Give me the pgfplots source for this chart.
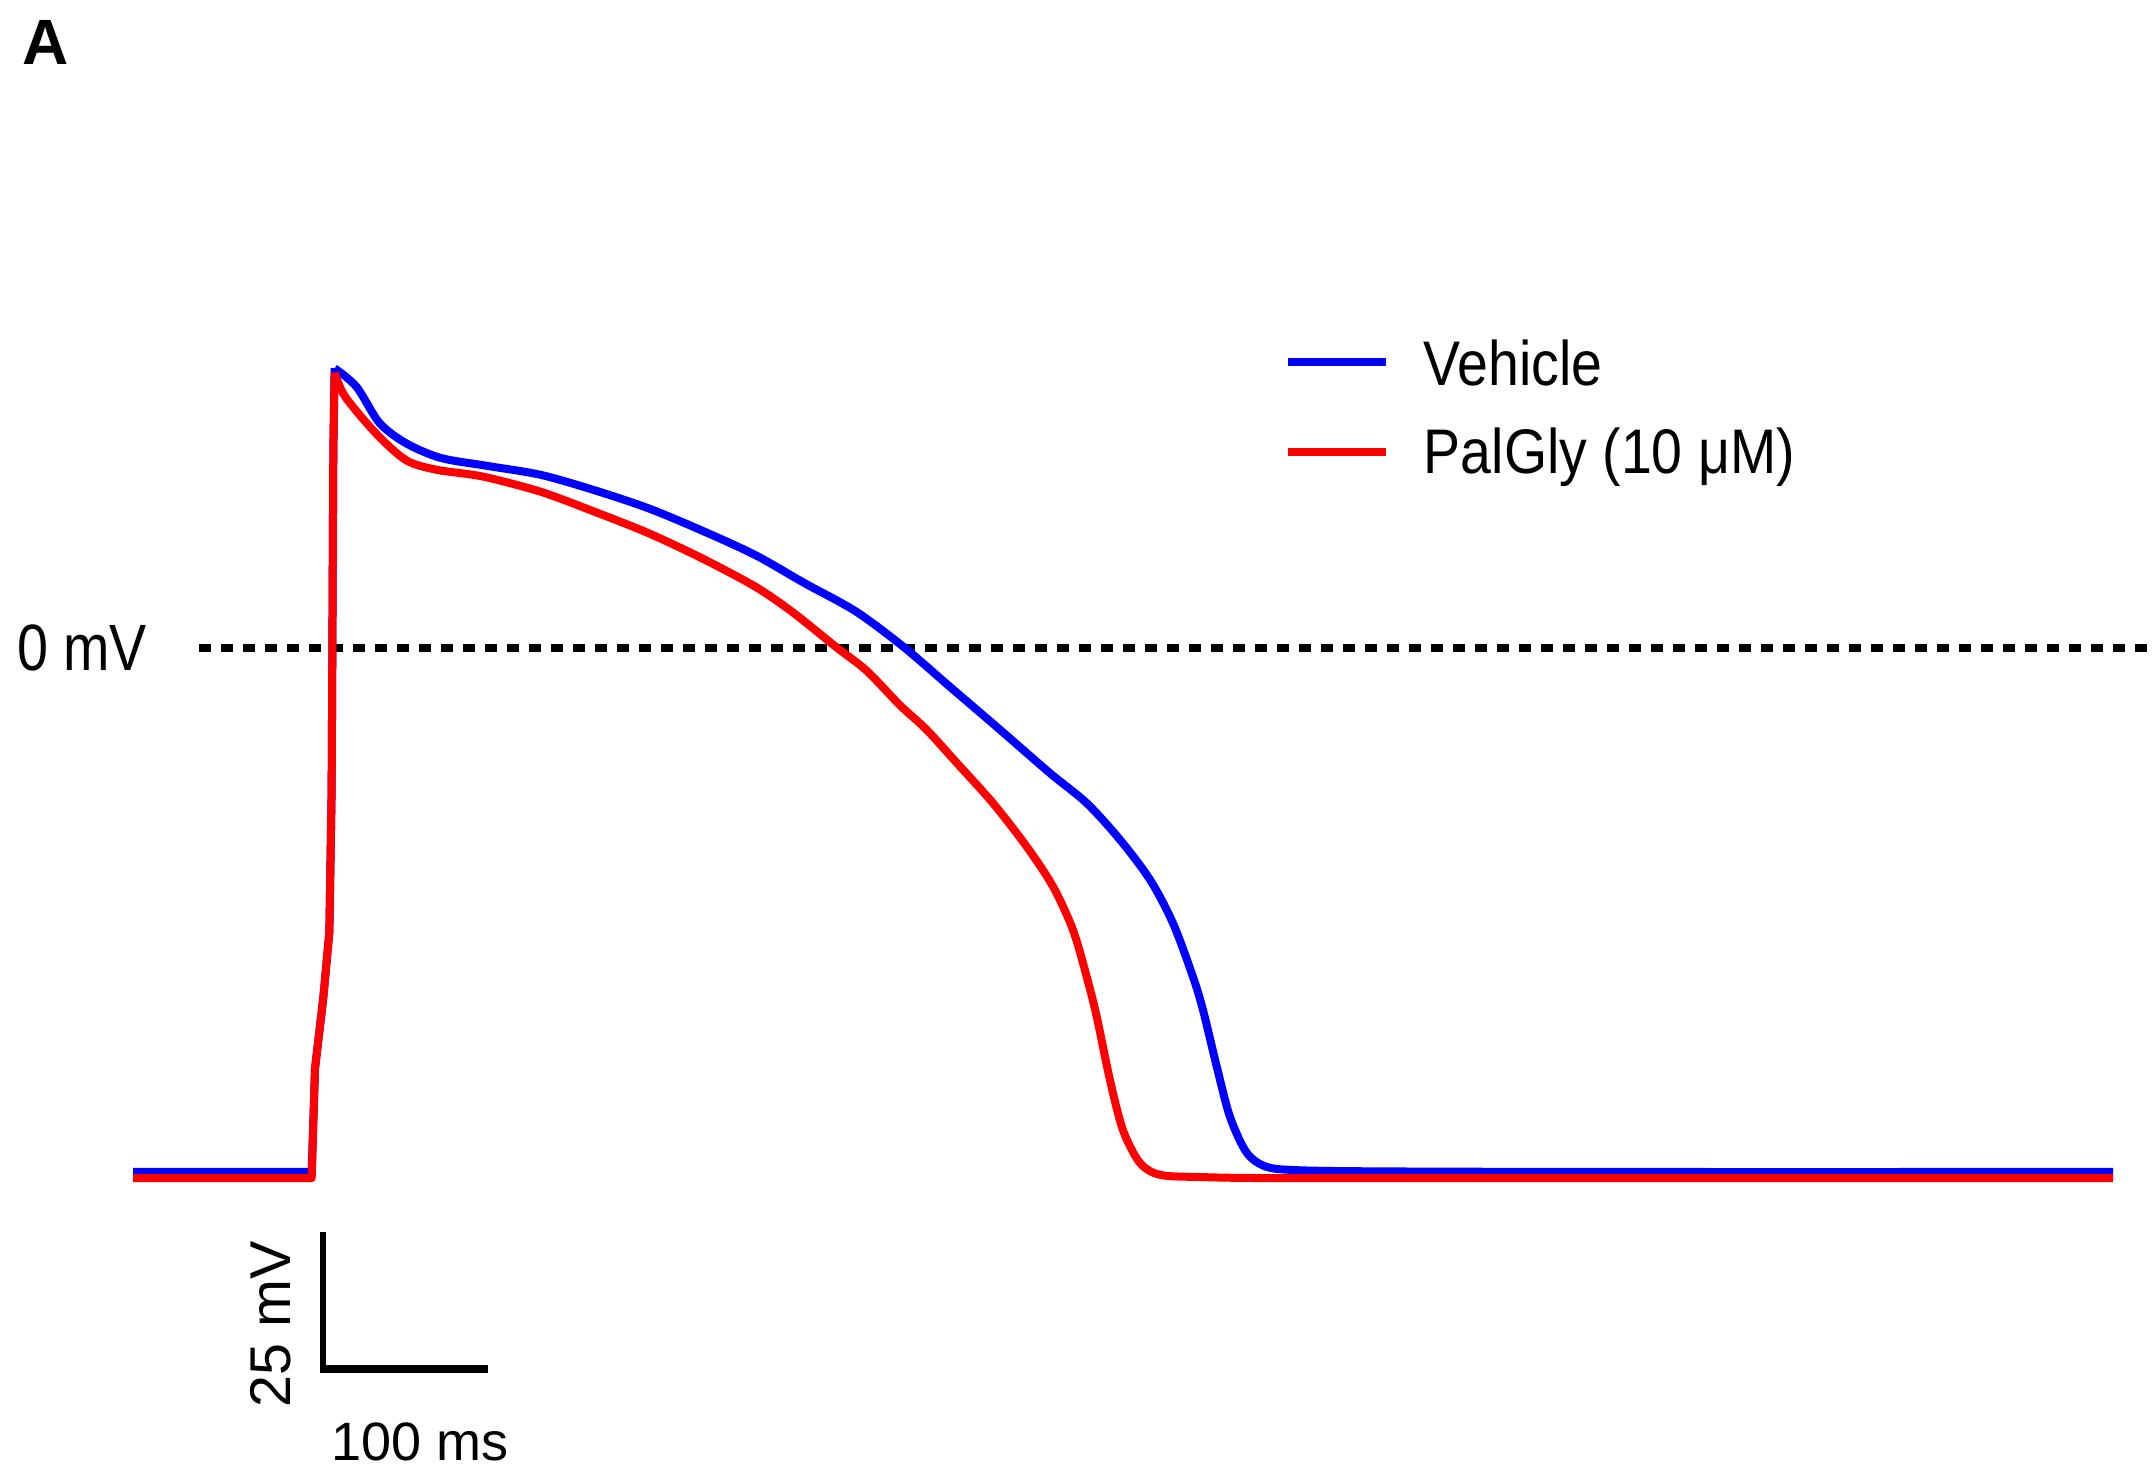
\documentclass[border=0pt]{standalone}
\usepackage{pgfplots}
\pgfplotsset{compat=1.18}
\usepackage{fontspec}
\setmainfont{Liberation Sans}
\usepackage{graphicx}
\begin{document}
\begin{tikzpicture}
\begin{axis}[
  width=431.2pt, height=295.6pt, scale only axis,
  xmin=-80.606, xmax=1226.06, ymin=-147.163, ymax=114.894,
  hide axis, clip=false,
]
% 0 mV reference line
\addplot[black, line width=1.6pt, line cap=butt, dash pattern=on 2.4pt off 2pt] coordinates {(40,0) (1226,0)};
% Vehicle: resting + upstroke
\addplot[blue, line width=1.6pt, line join=round] coordinates {
(0,-92.9) (108.3,-92.9) (110.3,-74.6) (115.3,-62.1) (119.0,-50.4) (120.4,-25.0) (121.4,35.1) (122.2,49.6)};
% Vehicle: repolarisation
\addplot[blue, line width=1.6pt, line join=round, smooth, tension=0.5] coordinates {
(122.2,49.6) (135.5,46.3) (149.4,39.9) (165.5,36.3) (186.5,33.7) (214.5,32.3) (247.1,30.7) (279.4,28.0) (312.1,24.8)
(344.2,20.9) (377.0,16.5) (407,11.5) (438,6.5) (467,0.2) (495.2,-6.9) (525.5,-14.5) (555.8,-22.2)
(578.0,-27.5) (598.2,-34.0) (616.4,-41.1) (630.3,-48.8) (642.4,-58.3) (648.5,-64.2) (656.8,-74.2)
(664.8,-83.1) (675.0,-89.5) (687.1,-92.0) (707.3,-92.6) (760,-92.8) (900,-92.9) (1200,-92.9)};
% PalGly: resting + upstroke
\addplot[red, line width=1.6pt, line join=round] coordinates {
(0,-94.0) (108.3,-94.0) (110.3,-74.6) (115.3,-62.1) (119.0,-50.4) (120.4,-25.0) (121.4,35.1) (122.2,48.8)};
% PalGly: repolarisation
\addplot[red, line width=1.6pt, line join=round, smooth, tension=0.5] coordinates {
(122.2,48.8) (128.5,44.6) (147.1,38.1) (165.5,33.3) (184,31.6) (212,30.4) (247.1,27.7) (279.4,24.2) (312.1,20.4)
(344.2,16.0) (377.0,10.9) (400,6.3) (426,0.2) (444.5,-4.0) (465,-10.2) (481.0,-14.5) (501.2,-21.0)
(521.2,-27.5) (541.6,-35.2) (557.6,-42.3) (569.7,-50.0) (578.0,-58.3) (584.1,-65.4) (592.1,-76.6)
(600.0,-85.5) (610.3,-91.3) (622.4,-93.4) (646.7,-93.8) (700,-94.0) (900,-94.0) (1200,-94.0)};
% legend lines
\addplot[blue, line width=1.6pt] coordinates {(700,50.7) (759.4,50.7)};
\addplot[red, line width=1.6pt] coordinates {(700,34.8) (759.4,34.8)};
% scale bars
\addplot[black, line width=1.2pt] coordinates {(115.2,-103.5) (115.2,-128.5)};
\addplot[black, line width=1.6pt] coordinates {(115.2,-127.8) (215.2,-127.8)};
% texts
\node[inner sep=0, font=\fontsize{12.8}{15}\selectfont\bfseries] at (axis cs:-52.7,107.4) {A};
\node[anchor=base west, inner sep=0, font=\fontsize{13.1}{15}\selectfont] at (axis cs:-70.9,-3.9) {\scalebox{0.85}[1]{0 mV}};
\node[anchor=base west, inner sep=0, font=\fontsize{12.6}{15}\selectfont] at (axis cs:781.8,46.6) {\scalebox{0.88}[1]{Vehicle}};
\node[anchor=base west, inner sep=0, font=\fontsize{12.6}{15}\selectfont] at (axis cs:781.8,31.0) {\scalebox{0.88}[1]{PalGly (10 μM)}};
\node[anchor=base west, inner sep=0, font=\fontsize{10.8}{13}\selectfont] at (axis cs:119.4,-144.0) {100 ms};
\node[anchor=base west, inner sep=0, rotate=90, font=\fontsize{11.5}{13}\selectfont] at (axis cs:95.2,-134.8) {25 mV};
\end{axis}
\pgfresetboundingbox
\path (current axis.south west) rectangle (current axis.north east);
\end{tikzpicture}
\end{document}
